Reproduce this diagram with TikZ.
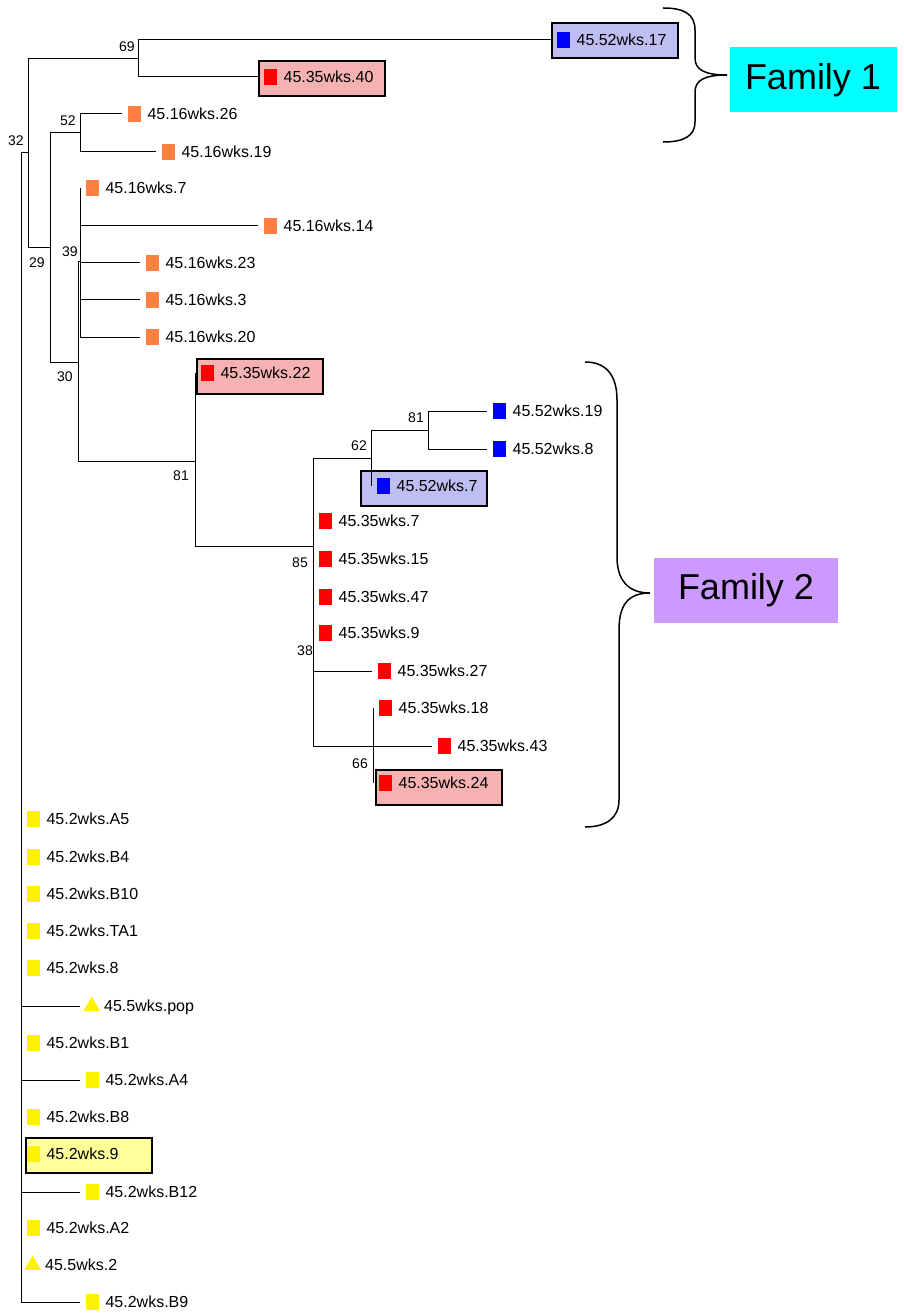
\documentclass[tikz,border=0pt]{standalone}
\usepackage{fontspec}
\setmainfont{Liberation Sans}
\usetikzlibrary{positioning,backgrounds,shapes.geometric}

\definecolor{orgmark}{RGB}{255,128,64}
\definecolor{redbox}{RGB}{246,178,178}
\definecolor{bluebox}{RGB}{190,190,242}
\definecolor{yelbox}{RGB}{255,255,153}
\definecolor{fam1}{RGB}{0,255,255}
\definecolor{fam2}{RGB}{204,153,255}

\begin{document}
\begin{tikzpicture}[x=1pt, y=1pt,
    br/.style={line width=1pt},
    sqm/.style={rectangle, inner sep=0pt, minimum width=12.5pt, minimum height=16pt, fill=#1},
    osq/.style={sqm=orgmark}, rsq/.style={sqm=red}, bsq/.style={sqm=blue}, ysq/.style={sqm=yellow},
    ytri/.style={regular polygon, regular polygon sides=3, inner sep=0pt, minimum size=19pt, fill=yellow},
    lbl/.style={inner sep=0pt, text height=11.5pt, text depth=0pt, font=\fontsize{16}{18}\selectfont},
    bs/.style={inner sep=0pt, font=\fontsize{14}{16}\selectfont},
    hibox/.style={draw=black, line width=1.8pt, fill=#1, minimum width=126pt, minimum height=35pt, anchor=north west, inner sep=0pt},
    fambox/.style={fill=#1, inner sep=0pt, minimum height=65pt, font=\fontsize{36}{40}\selectfont},
    brace/.style={line width=1.5pt}]
\useasboundingbox (0,0) rectangle (903,-1313);

% inner nodes
\coordinate (root) at (21,-153);
\coordinate (n32) at (28,-153);
\coordinate (n69) at (138,-59);
\coordinate (n29) at (50,-248);
\coordinate (n52) at (80,-133);
\coordinate (n30) at (78,-362);
\coordinate (n39) at (80,-262);
\coordinate (n81) at (195,-461);
\coordinate (n85) at (313,-546);
\coordinate (n62) at (371,-458);
\coordinate (n81b) at (428,-430);
\coordinate (n38) at (313,-708);
\coordinate (n66) at (373,-746);

% highlight boxes
\begin{scope}[on background layer]
  \node[hibox=bluebox] (bx17) at (551,-22) {};
  \node[hibox=redbox] (bx40) at (258,-60) {};
  \node[hibox=redbox] (bx22) at (196,-358) {};
  \node[hibox=bluebox] (bxb7) at (360,-470) {};
  \node[hibox=redbox] (bx24) at (375,-769) {};
  \node[hibox=yelbox] (bxy9) at (25,-1137) {};
\end{scope}

% leaves: name/x/y/marker/text
\foreach \id/\x/\y/\m/\txt in {
    b17/551/40/bsq/45.52wks.17, r40/258/77/rsq/45.35wks.40,
    o26/122/114/osq/45.16wks.26, o19/156/152/osq/45.16wks.19,
    o7/80/188/osq/45.16wks.7, o14/258/226/osq/45.16wks.14,
    o23/140/263/osq/45.16wks.23, o3/140/300/osq/45.16wks.3,
    o20/140/337/osq/45.16wks.20,
    r22/195/373/rsq/45.35wks.22,
    b19/487/411/bsq/45.52wks.19, b8/487/449/bsq/45.52wks.8,
    b7/371/486/bsq/45.52wks.7,
    r7/313/521/rsq/45.35wks.7, r15/313/559/rsq/45.35wks.15,
    r47/313/597/rsq/45.35wks.47, r9/313/633/rsq/45.35wks.9,
    r27/372/671/rsq/45.35wks.27, r18/373/708/rsq/45.35wks.18,
    r43/432/746/rsq/45.35wks.43, r24/373/783/rsq/45.35wks.24,
    yA5/21/819/ysq/45.2wks.A5, yB4/21/857/ysq/45.2wks.B4,
    yB10/21/894/ysq/45.2wks.B10, yTA1/21/931/ysq/45.2wks.TA1,
    y8/21/968/ysq/45.2wks.8, ypop/80/1006/ytri/45.5wks.pop,
    yB1/21/1043/ysq/45.2wks.B1, yA4/80/1080/ysq/45.2wks.A4,
    yB8/21/1117/ysq/45.2wks.B8, y9/21/1154/ysq/45.2wks.9,
    yB12/80/1192/ysq/45.2wks.B12, yA2/21/1228/ysq/45.2wks.A2,
    y2/21/1265/ytri/45.5wks.2, yB9/80/1302/ysq/45.2wks.B9}{
  \coordinate (t\id) at (\x,-\y);
  \node[\m, right=6pt of t\id] (m\id) {};
  \node[lbl, right=6.5pt of m\id] (l\id) {\txt};
}

% branches
\draw[br] (root) -- (n32);
\draw[br] (n32) |- (n69) (n32) |- (n29);
\draw[br] (n69) |- (tb17) (n69) |- (tr40);
\draw[br] (n29) |- (n52) (n29) |- (n30);
\draw[br] (n52) |- (to26) (n52) |- (to19);
\draw[br] (n30) |- (n39) (n30) |- (n81);
\foreach \k in {o7,o14,o23,o3,o20} \draw[br] (n39) |- (t\k);
\draw[br] (n81) |- (tr22) (n81) |- (n85);
\foreach \k in {r7,r15,r47,r9} \draw[br] (n85) |- (t\k);
\draw[br] (n85) |- (n62) (n85) |- (n38);
\draw[br] (n62) |- (n81b) (n62) |- (tb7);
\draw[br] (n81b) |- (tb19) (n81b) |- (tb8);
\draw[br] (n38) |- (tr27) (n38) |- (n66) (n38) |- (tr43);
\draw[br] (n66) |- (tr18) (n66) |- (tr24);
\foreach \k in {yA5,yB4,yB10,yTA1,y8,ypop,yB1,yA4,yB8,y9,yB12,yA2,y2,yB9}
  \draw[br] (root) |- (t\k);

% bootstrap values
\foreach \id/\x/\y/\v in {32/16/141/32, 69/127/47/69, 52/68/121/52, 29/37/263/29,
    39/70/252/39, 30/65/377/30, 81/181/476/81, 85/300/563/85, 62/359/446/62,
    81b/416/418/81, 38/305/651/38, 66/360/764/66}
  \node[bs] (s\id) at (\x,-\y) {\v};

% families
\node[fambox=fam1, minimum width=167pt] (f1) at (813,-80) {Family 1};
\node[fambox=fam2, minimum width=184pt] (f2) at (746,-590) {Family 2};

\coordinate (c1t) at (663,-8);
\coordinate (c1b) at (663,-142);
\draw[brace] (c1t) .. controls (684,-8) and (695,-14) .. (695,-30) -- (695,-58)
  .. controls (695,-70) and (705,-75) .. (727,-75)
  .. controls (705,-75) and (695,-80) .. (695,-92) -- (695,-122)
  .. controls (695,-136) and (684,-142) .. (c1b);

\coordinate (c2t) at (585,-362);
\coordinate (c2b) at (585,-827);
\draw[brace] (c2t) .. controls (606,-362) and (617,-375) .. (617,-400) -- (617,-557)
  .. controls (617,-580) and (628,-593) .. (650,-593)
  .. controls (628,-593) and (619,-605) .. (619,-630) -- (619,-800)
  .. controls (619,-818) and (606,-827) .. (c2b);
\end{tikzpicture}
\end{document}
